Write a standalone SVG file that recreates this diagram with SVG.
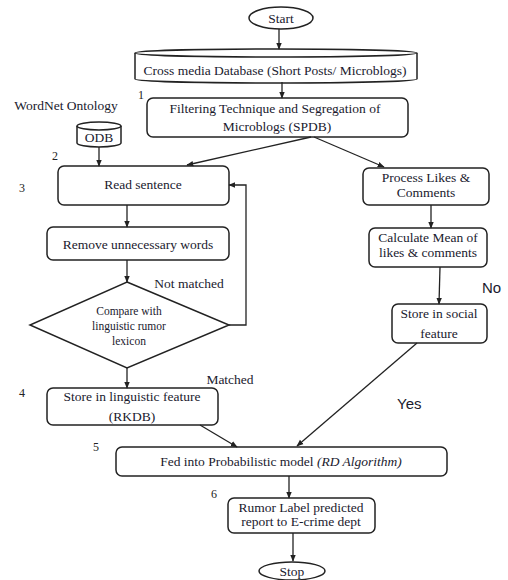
<svg xmlns="http://www.w3.org/2000/svg" width="508" height="580" viewBox="0 0 508 580" font-family="'Liberation Serif', 'Times New Roman', 'DejaVu Serif', serif">
<style>
.s{fill:#fff;stroke:#222;stroke-width:1.5}
.t{font-family:'Liberation Serif','Times New Roman','DejaVu Serif',serif;font-size:13.5px;fill:#1a1a2e;text-anchor:middle}
.sm{font-size:11.5px}
.n{font-family:'Liberation Serif','Times New Roman','DejaVu Serif',serif;font-size:12px;fill:#222}
.l{font-family:'Liberation Sans',Arial,sans-serif;font-size:15px;fill:#1a1a2e}
.c{fill:none;stroke:#222;stroke-width:1.3;marker-end:url(#a)}
</style>
<defs>
<marker id="a" viewBox="0 0 10 10" refX="9" refY="5" markerWidth="7" markerHeight="7" orient="auto" markerUnits="userSpaceOnUse"><path d="M0,1 L10,5 L0,9 Z" fill="#222"/></marker>
</defs>
<rect width="508" height="580" fill="#fff"/>
<g id="start"><ellipse class="s" cx="281" cy="18" rx="32" ry="11"/><text class="t" x="281" y="23">Start</text></g>
<g id="crossdb"><path class="s" d="M135,53 L135,79 A141,4 0 0 0 417,79 L417,53 A141,4 0 0 0 135,53 Z"/><path d="M135,53 A141,4 0 0 0 417,53" fill="none" stroke="#222" stroke-width="1.5"/><text class="t" x="275" y="75">Cross media Database (Short Posts/ Microblogs)</text></g>
<g id="filter"><rect class="s" x="147" y="98" width="261" height="39" rx="6"/><text class="t" x="275" y="113">Filtering Technique and Segregation of</text><text class="t" x="277" y="131">Microblogs (SPDB)</text></g>
<g id="wordnet"><text class="t" x="66" y="110">WordNet Ontology</text></g>
<g id="odb"><path class="s" d="M77,126 L77,143 A22,4 0 0 0 121,143 L121,126 A22,4 0 0 0 77,126 Z"/><path d="M77,126 A22,4 0 0 0 121,126" fill="none" stroke="#222" stroke-width="1.5"/><text class="t" x="99" y="142">ODB</text></g>
<g id="read"><rect class="s" x="58" y="166" width="171" height="39" rx="6"/><text class="t" x="143" y="189">Read sentence</text></g>
<g id="remove"><rect class="s" x="47" y="227" width="182" height="33" rx="6"/><text class="t" x="138" y="249">Remove unnecessary words</text></g>
<g id="compare"><polygon class="s" points="127,282 229,325 127,368 30,325"/><text class="t sm" x="129" y="315">Compare with</text><text class="t sm" x="129" y="330">linguistic rumor</text><text class="t sm" x="129" y="345">lexicon</text></g>
<g id="storeling"><rect class="s" x="47" y="388" width="171" height="37" rx="6"/><text class="t" x="132" y="401">Store in linguistic feature</text><text class="t" x="132" y="421">(RKDB)</text></g>
<g id="process"><rect class="s" x="363" y="168" width="126" height="37" rx="6"/><text class="t" x="426" y="182">Process Likes &amp;</text><text class="t" x="426" y="197">Comments</text></g>
<g id="calc"><rect class="s" x="369" y="228" width="118" height="39" rx="6"/><text class="t" x="428" y="242">Calculate Mean of</text><text class="t" x="428" y="257">likes &amp; comments</text></g>
<g id="storesoc"><rect class="s" x="392" y="304" width="95" height="39" rx="6"/><text class="t" x="439" y="318">Store in social</text><text class="t" x="439" y="338">feature</text></g>
<g id="fed"><rect class="s" x="116" y="447" width="331" height="29" rx="6"/><text class="t" x="281" y="466">Fed into Probabilistic model <tspan font-style="italic">(RD Algorithm)</tspan></text></g>
<g id="rumor"><rect class="s" x="228" y="498" width="147" height="35" rx="6"/><text class="t" x="301" y="512">Rumor Label predicted</text><text class="t" x="301" y="526">report to E-crime dept</text></g>
<g id="stop"><ellipse class="s" cx="292" cy="571" rx="33" ry="9"/><text class="t" x="292" y="576">Stop</text></g>
<g id="labels">
<text class="n" x="138" y="99">1</text>
<text class="n" x="52" y="160">2</text>
<text class="n" x="19" y="192">3</text>
<text class="n" x="19" y="397">4</text>
<text class="n" x="93" y="451">5</text>
<text class="n" x="211" y="498">6</text>
<text class="t" x="189" y="288">Not matched</text>
<text class="t" x="230" y="384">Matched</text>
<text class="l" x="482" y="293">No</text>
<text class="l" x="397" y="409">Yes</text>
</g>
<g id="connectors">
<line class="c" x1="279" y1="29" x2="279" y2="49"/>
<line class="c" x1="282" y1="82" x2="282" y2="98"/>
<line class="c" x1="99" y1="147" x2="99" y2="166"/>
<line class="c" x1="311" y1="137" x2="187" y2="165"/>
<line class="c" x1="314" y1="137" x2="384" y2="167"/>
<line class="c" x1="127" y1="205" x2="127" y2="227"/>
<line class="c" x1="127" y1="260" x2="127" y2="282"/>
<polyline class="c" points="229,325 246,325 246,185 229,185"/>
<line class="c" x1="127" y1="368" x2="127" y2="388"/>
<line class="c" x1="431" y1="205" x2="431" y2="228"/>
<line class="c" x1="440" y1="267" x2="439" y2="304"/>
<line class="c" x1="200" y1="425" x2="237" y2="447"/>
<line class="c" x1="417" y1="343" x2="297" y2="446"/>
<line class="c" x1="289" y1="476" x2="289" y2="498"/>
<line class="c" x1="293" y1="533" x2="293" y2="561"/>
</g>
</svg>
